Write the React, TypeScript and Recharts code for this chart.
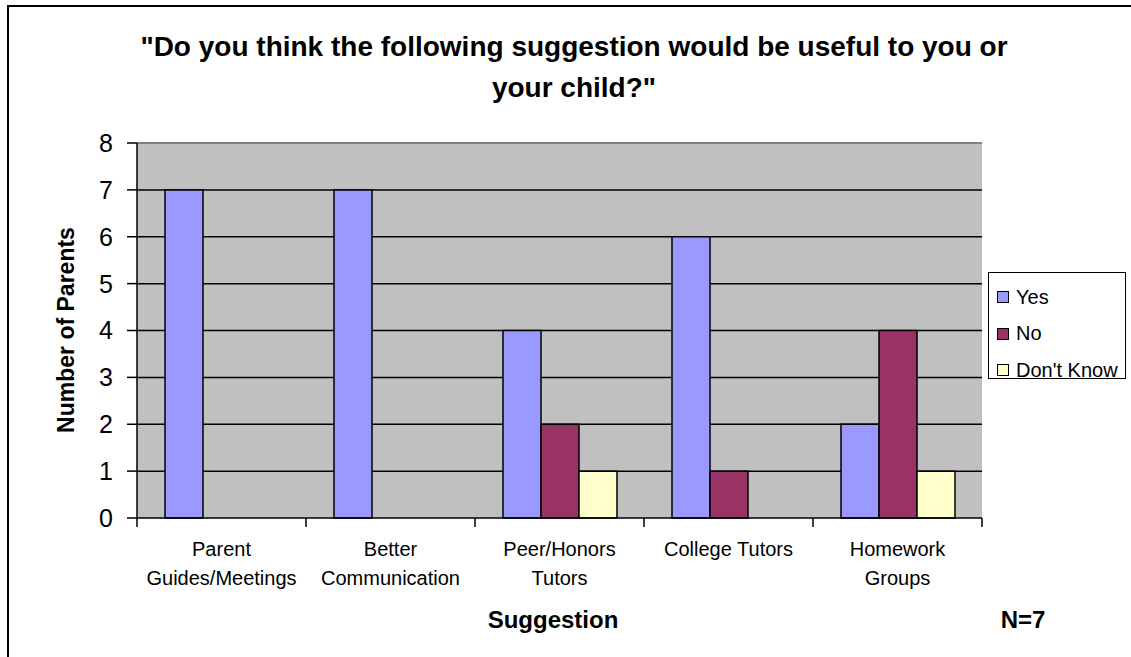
import { BarChart, Bar, XAxis, YAxis, CartesianGrid, Legend, ReferenceLine, Label } from "recharts";

// Survey: "Do you think the following suggestion would be useful to you or your child?"
const categories = ["Parent Guides/Meetings", "Better Communication", "Peer/Honors Tutors", "College Tutors", "Homework Groups"];
const categoryLines = [["Parent", "Guides/Meetings"], ["Better", "Communication"], ["Peer/Honors", "Tutors"], ["College Tutors"], ["Homework", "Groups"]];
const yesValues = [7, 7, 4, 6, 2];
const noValues = [0, 0, 2, 1, 4];
const dontKnowValues = [0, 0, 1, 0, 1];
const yTicks = [0, 1, 2, 3, 4, 5, 6, 7, 8];
const gridValues = [1, 2, 3, 4, 5, 6, 7];
const seriesKeys = ["yes", "no", "dontKnow"];
const seriesNames = ["Yes", "No", "Don't Know"];
const seriesColors = ["#9999FF", "#993366", "#FFFFCC"];

const FONT = "'Liberation Sans', Arial, sans-serif";
const W = 1131;
const H = 657;
const PLOT_W = 845;

const chartData = categories.map((name, i) => ({
  name,
  yes: yesValues[i],
  no: noValues[i],
  dontKnow: dontKnowValues[i],
}));

const CategoryTick = (props: any) => {
  const { x, y, index } = props;
  const bw = PLOT_W / categories.length;
  const lines = categoryLines[index] || [];
  return (
    <g>
      <line x1={x - bw / 2} y1={y} x2={x - bw / 2} y2={y + 9} stroke="#000" strokeWidth={1.5} />
      {index === categories.length - 1 && (
        <line x1={x + bw / 2} y1={y} x2={x + bw / 2} y2={y + 9} stroke="#000" strokeWidth={1.5} />
      )}
      {lines.map((t: string, k: number) => (
        <text key={k} x={x} y={y + 38 + k * 29} textAnchor="middle" fontSize={20} fontFamily={FONT} fill="#000">
          {t}
        </text>
      ))}
    </g>
  );
};

const LegendBox = () => (
  <div
    style={{
      border: "1.5px solid #000",
      background: "#fff",
      width: 138,
      height: 107,
      boxSizing: "border-box",
      paddingTop: 6,
      fontFamily: FONT,
      fontSize: 20,
    }}
  >
    {seriesNames.map((n, i) => (
      <div key={n} style={{ display: "flex", alignItems: "center", height: 36.5, paddingLeft: 8 }}>
        <span
          style={{
            display: "inline-block",
            width: 10,
            height: 10,
            background: seriesColors[i],
            border: "1.5px solid #000",
            marginRight: 7,
          }}
        />
        <span>{n}</span>
      </div>
    ))}
  </div>
);

export default function App() {
  return (
    <div style={{ position: "relative", width: W, height: H, overflow: "hidden", background: "#fff" }}>
      <style>{`body{margin:0}`}</style>
      <div
        style={{
          position: "absolute",
          left: 7,
          top: 5,
          width: W + 50,
          height: H + 50,
          border: "2px solid #000",
        }}
      />
      <div
        style={{
          position: "absolute",
          left: 74,
          top: 26,
          width: 1000,
          textAlign: "center",
          fontFamily: FONT,
          fontWeight: "bold",
          fontSize: 28,
          lineHeight: "41px",
          zIndex: 2,
        }}
      >
        "Do you think the following suggestion would be useful to you or
        <br />
        your child?"
      </div>
      <BarChart
        width={W}
        height={H}
        data={chartData}
        margin={{ top: 143, right: 149, bottom: 79, left: 77 }}
        barGap={0}
        barSize={38}
      >
        <CartesianGrid
          vertical={false}
          horizontalValues={gridValues}
          stroke="#000"
          strokeWidth={1.5}
          fill="#C0C0C0"
          fillOpacity={1}
        />
        <ReferenceLine y={8} stroke="#808080" strokeWidth={2} />
        <XAxis
          dataKey="name"
          height={60}
          interval={0}
          tickLine={false}
          tickSize={0}
          tickMargin={0}
          axisLine={{ stroke: "#000", strokeWidth: 1.5 }}
          tick={<CategoryTick />}
        >
          <Label
            content={() => (
              <g fontFamily={FONT} fontWeight="bold" fontSize={24} fill="#000">
                <text x={553} y={628} textAnchor="middle">Suggestion</text>
                <text x={1023} y={628} textAnchor="middle">N=7</text>
              </g>
            )}
          />
        </XAxis>
        <YAxis
          width={60}
          domain={[0, 8]}
          ticks={yTicks}
          interval={0}
          tickSize={10}
          tickMargin={14}
          tickLine={{ stroke: "#000", strokeWidth: 1.5 }}
          axisLine={{ stroke: "#000", strokeWidth: 1.5 }}
          tick={{ fill: "#000", fontSize: 25, fontFamily: FONT }}
        >
          <Label
            content={() => (
              <text
                x={66}
                y={330}
                transform="rotate(-90 66 330)"
                textAnchor="middle"
                dominantBaseline="central"
                fontFamily={FONT}
                fontWeight="bold"
                fontSize={23}
                fill="#000"
              >
                Number of Parents
              </text>
            )}
          />
        </YAxis>
        <YAxis
          yAxisId="right"
          orientation="right"
          width={0}
          domain={[0, 8]}
          tick={false}
          tickLine={false}
          axisLine={{ stroke: "#808080", strokeWidth: 2 }}
        />
        <Legend
          layout="vertical"
          align="center"
          verticalAlign="middle"
          wrapperStyle={{ left: 988, top: 272, width: 140, height: 109 }}
          content={() => <LegendBox />}
        />
        {seriesKeys.map((k, i) => (
          <Bar
            key={k}
            dataKey={k}
            name={seriesNames[i]}
            fill={seriesColors[i]}
            stroke="#000"
            strokeWidth={1.5}
            isAnimationActive={false}
          />
        ))}
      </BarChart>
    </div>
  );
}
